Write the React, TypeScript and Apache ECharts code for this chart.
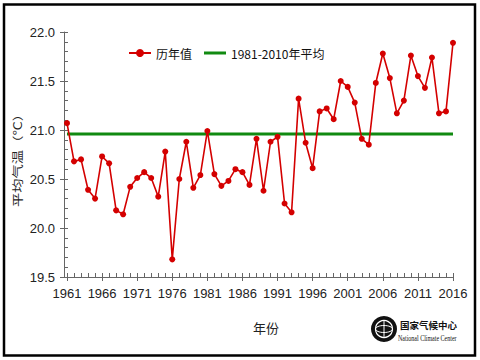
import React, { useEffect, useRef } from "react";
import * as echarts from "echarts";

const years = [
  1961, 1962, 1963, 1964, 1965, 1966, 1967, 1968, 1969, 1970,
  1971, 1972, 1973, 1974, 1975, 1976, 1977, 1978, 1979, 1980,
  1981, 1982, 1983, 1984, 1985, 1986, 1987, 1988, 1989, 1990,
  1991, 1992, 1993, 1994, 1995, 1996, 1997, 1998, 1999, 2000,
  2001, 2002, 2003, 2004, 2005, 2006, 2007, 2008, 2009, 2010,
  2011, 2012, 2013, 2014, 2015, 2016,
];
const annualTemp = [
  21.07, 20.68, 20.70, 20.39, 20.30, 20.73, 20.66, 20.18, 20.14, 20.42,
  20.51, 20.57, 20.51, 20.32, 20.78, 19.68, 20.50, 20.88, 20.41, 20.54,
  20.99, 20.55, 20.43, 20.48, 20.60, 20.57, 20.44, 20.91, 20.38, 20.88,
  20.93, 20.25, 20.16, 21.32, 20.87, 20.61, 21.19, 21.22, 21.11, 21.50,
  21.44, 21.28, 20.91, 20.85, 21.48, 21.78, 21.53, 21.17, 21.30, 21.76,
  21.55, 21.43, 21.74, 21.17, 21.19, 21.89,
];
const baselineMean = 20.96;
const baselineStart = 1961;
const baselineEnd = 2016;
const seriesNames = ["历年值", "1981-2010年平均"];
const yAxisTitle = "平均气温（℃）";
const xAxisTitle = "年份";
const orgNameZh = "国家气候中心";
const orgNameEn = "National Climate Center";

const NUM_FONT = "'Liberation Sans Narrow', 'Liberation Sans', Arial, sans-serif";
const CJK_FONT = "'Liberation Sans Narrow', 'Noto Sans CJK SC', sans-serif";

export default function App() {
  const ref = useRef<HTMLDivElement>(null);
  useEffect(() => {
    if (!ref.current) return;
    const chart = echarts.init(ref.current, null, { renderer: "svg" });
    const axisColor = "#666";
    chart.setOption({
      animation: false,
      backgroundColor: "#fff",
      grid: { left: 67, right: 27, top: 32, bottom: 83, containLabel: false },
      legend: {
        data: [
          { name: seriesNames[0] },
          { name: seriesNames[1], icon: "path://M0,0 L22,0 L22,3 L0,3 Z" },
        ],
        left: 123,
        top: 42,
        itemWidth: 22,
        itemHeight: 10,
        itemGap: 12,
        textStyle: { fontSize: 12, color: "#111", fontFamily: CJK_FONT },
      },
      xAxis: [
        {
          type: "value",
          min: 1961,
          max: 2016,
          interval: 5,
          axisLine: { show: true, lineStyle: { color: axisColor, width: 1 } },
          axisTick: { show: true, inside: false, length: 4, lineStyle: { color: axisColor } },
          axisLabel: {
            margin: 10,
            fontSize: 13,
            color: "#222",
            fontFamily: NUM_FONT,
            formatter: (v: number) => String(v),
          },
          splitLine: { show: false },
        },
        {
          type: "value",
          min: 1961,
          max: 2016,
          interval: 1,
          position: "bottom",
          axisLine: { show: false },
          axisTick: { show: true, inside: true, length: 4, lineStyle: { color: axisColor } },
          axisLabel: { show: false },
          splitLine: { show: false },
        },
      ],
      yAxis: [
        {
          type: "value",
          min: 19.5,
          max: 22,
          interval: 0.5,
          offset: 3,
          axisLine: { show: true, lineStyle: { color: axisColor, width: 1 } },
          axisTick: { show: true, inside: false, length: 4, lineStyle: { color: axisColor } },
          axisLabel: {
            margin: 9,
            fontSize: 13,
            color: "#222",
            fontFamily: NUM_FONT,
            formatter: (v: number) => v.toFixed(1),
          },
          splitLine: { show: false },
        },
        {
          type: "value",
          min: 19.5,
          max: 22,
          interval: 0.1,
          offset: 3,
          position: "left",
          axisLine: { show: false },
          axisTick: { show: true, inside: true, length: 4, lineStyle: { color: axisColor } },
          axisLabel: { show: false },
          splitLine: { show: false },
        },
      ],
      series: [
        {
          name: seriesNames[1],
          type: "line",
          xAxisIndex: 0,
          yAxisIndex: 0,
          symbol: "none",
          data: [
            [baselineStart, baselineMean],
            [baselineEnd, baselineMean],
          ],
          lineStyle: { color: "#118a11", width: 3 },
          itemStyle: { color: "#118a11" },
          z: 2,
        },
        {
          name: seriesNames[0],
          type: "line",
          xAxisIndex: 0,
          yAxisIndex: 0,
          symbol: "circle",
          symbolSize: 6,
          showAllSymbol: true,
          data: years.map((y, i) => [y, annualTemp[i]]),
          lineStyle: { color: "#d40000", width: 1.6 },
          itemStyle: { color: "#d40000" },
          z: 3,
        },
      ],
      graphic: [
        {
          type: "rect",
          shape: { x: 4, y: 4.5, width: 471, height: 351 },
          style: { fill: "none", stroke: "#000", lineWidth: 2.5 },
          silent: true,
        },
        {
          type: "text",
          x: 17,
          y: 157,
          rotation: Math.PI / 2,
          scaleX: 1.3,
          style: {
            text: yAxisTitle,
            fontSize: 11,
            fill: "#222",
            fontFamily: "'Noto Sans CJK SC', sans-serif",
            align: "center",
            verticalAlign: "middle",
          },
        },
        {
          type: "text",
          x: 266,
          y: 327,
          style: {
            text: xAxisTitle,
            fontSize: 13,
            fill: "#222",
            fontFamily: "'Noto Sans CJK SC', sans-serif",
            align: "center",
            verticalAlign: "middle",
          },
        },
        {
          type: "circle",
          shape: { cx: 384, cy: 329, r: 13 },
          style: { fill: "#111" },
        },
        {
          type: "circle",
          shape: { cx: 384, cy: 329, r: 8.5 },
          style: { fill: "none", stroke: "#fff", lineWidth: 1.2 },
        },
        {
          type: "ellipse",
          shape: { cx: 384, cy: 329, rx: 8.5, ry: 3.5 },
          style: { fill: "none", stroke: "#fff", lineWidth: 1 },
        },
        {
          type: "line",
          shape: { x1: 384, y1: 320.5, x2: 384, y2: 337.5 },
          style: { stroke: "#fff", lineWidth: 1 },
        },
        {
          type: "text",
          x: 400,
          y: 324.5,
          style: {
            text: orgNameZh,
            fontSize: 9.5,
            fontWeight: "bold",
            fill: "#111",
            fontFamily: "'Noto Sans CJK SC', sans-serif",
            align: "left",
            verticalAlign: "middle",
          },
        },
        {
          type: "text",
          x: 398,
          y: 339,
          scaleX: 0.75,
          style: {
            text: orgNameEn,
            fontSize: 8,
            fill: "#111",
            fontFamily: "'Liberation Serif', serif",
            align: "left",
            verticalAlign: "middle",
          },
        },
      ],
    });
    return () => chart.dispose();
  }, []);
  return (
    <div
      ref={ref}
      style={{ position: "fixed", left: 0, top: 0, width: 480, height: 360 }}
    />
  );
}
